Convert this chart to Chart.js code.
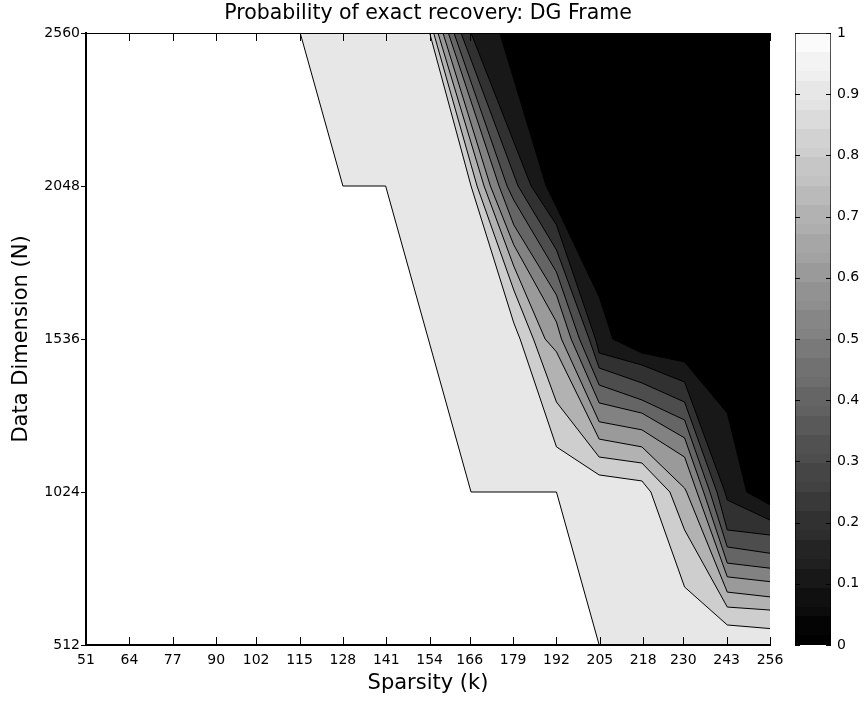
<!DOCTYPE html>
<html>
<head>
<meta charset="utf-8">
<script src="https://cdn.jsdelivr.net/npm/chart.js@4.4.1/dist/chart.umd.min.js"></script>
<style>
  html, body { margin: 0; padding: 0; background: #fff; }
  #wrap { position: relative; width: 864px; height: 702px; }
  #wrap canvas { position: absolute; left: 0; top: 0; }
</style>
</head>
<body>
<div id="wrap">
  <canvas id="contourChart" width="864" height="702"></canvas>
  <canvas id="colorbarChart" width="864" height="702"></canvas>
</div>
<script>
/* ==========================================================
   DATA
========================================================== */

const titleText = "Probability of exact recovery: DG Frame";

// sparsity k (x) and data dimension N (y)
const kTicks = [51, 64, 77, 90, 102, 115, 128, 141, 154, 166, 179, 192, 205, 218, 230, 243, 256];
const nTicks = [512, 1024, 1536, 2048, 2560];

// colorbar
const cbTicks = [0, 0.1, 0.2, 0.3, 0.4, 0.5, 0.6, 0.7, 0.8, 0.9, 1];
const cbLabels = ["0", "0.1", "0.2", "0.3", "0.4", "0.5", "0.6", "0.7", "0.8", "0.9", "1"];

// contour levels, one line per level: [k, N]
const levels = [1.0, 0.9, 0.8, 0.7, 0.6, 0.5, 0.4, 0.3, 0.2, 0.1];

const contour100 = [[115.2, 2560], [128, 2048], [140.8, 2048], [153.6, 1536], [166.4, 1024], [192, 1024], [204.8, 512]];
const contour090 = [[154.0, 2560], [166.4, 2048], [179.2, 1590], [181.1, 1536], [192, 1175], [204.8, 1081], [217.6, 1061], [220.3, 1024], [230.4, 706], [243.2, 579], [256, 567]];
const contour080 = [[155.2, 2560], [168.2, 2048], [179.2, 1700], [185.1, 1536], [192, 1325], [204.8, 1141], [217.6, 1121], [226.0, 1024], [230.4, 897], [243.2, 639], [256, 629]];
const contour070 = [[156.5, 2560], [170.3, 2048], [179.2, 1780], [188.6, 1536], [192, 1493], [204.8, 1201], [217.6, 1175], [230.4, 1037], [231.0, 1024], [243.2, 689], [256, 673]];
const contour060 = [[158.0, 2560], [172.2, 2048], [179.2, 1851], [192, 1593], [193.5, 1536], [204.8, 1259], [217.6, 1232], [230.4, 1141], [234.1, 1024], [243.2, 740], [256, 724]];
const contour050 = [[159.6, 2560], [174.8, 2048], [179.2, 1918], [192, 1683], [196.4, 1536], [204.8, 1322], [217.6, 1288], [230.4, 1205], [236.1, 1024], [243.2, 786], [256, 769]];
const contour040 = [[161.3, 2560], [177.2, 2048], [179.2, 2001], [192, 1760], [198.9, 1536], [204.8, 1382], [217.6, 1332], [230.4, 1265], [238.0, 1024], [243.2, 840], [256, 819]];
const contour030 = [[163.4, 2560], [180.5, 2048], [192, 1834], [201.8, 1536], [204.8, 1439], [217.6, 1389], [230.4, 1325], [240.1, 1024], [243.2, 897], [256, 880]];
const contour020 = [[166.4, 2560], [184.4, 2048], [192, 1918], [203.7, 1536], [204.8, 1489], [217.6, 1449], [230.4, 1392], [242.5, 1024], [243.2, 997], [256, 930]];
const contour010 = [[175.0, 2560], [188.9, 2048], [192, 1978], [204.8, 1677], [208.9, 1536], [217.6, 1489], [230.4, 1459], [243.2, 1288], [249.0, 1024], [256, 981]];

const contours = [contour100, contour090, contour080, contour070, contour060,
                  contour050, contour040, contour030, contour020, contour010];

/* ==========================================================
   HELPERS
========================================================== */

const FONT = '"DejaVu Sans", Verdana, sans-serif';
Chart.defaults.font.family = FONT;
Chart.defaults.color = "#000";

// gray(64) colormap lookup, like matlab
function grayAt(v) {
    const idx = Math.min(63, Math.floor(Math.round(v * 1000) / 1000 * 64));
    const g = Math.round(idx / 63 * 255);
    return `rgb(${g},${g},${g})`;
}

const kMin = kTicks[0], kMax = kTicks[kTicks.length - 1];
const nMin = nTicks[0], nMax = nTicks[nTicks.length - 1];

// region above/right of each line holds values below the level
function toPoints(line) {
    const pts = line.map(([k, n]) => ({ x: k, y: n }));
    const last = pts[pts.length - 1];
    if (last.y === nMin && last.x < kMax) {
        pts.push({ x: kMax, y: nMin });
    }
    return pts;
}

/* ==========================================================
   PLUGINS
========================================================== */

const plotTitle = {
    id: "plotTitle",
    afterDraw(chart) {
        const { ctx, chartArea } = chart;
        ctx.save();
        ctx.font = `20.5px ${FONT}`;
        ctx.fillStyle = "#000";
        ctx.textAlign = "center";
        ctx.textBaseline = "alphabetic";
        ctx.fillText(titleText, (chartArea.left + chartArea.right) / 2, 19);
        ctx.restore();
    }
};

// ticks: x inward (bottom and top), y outward on the left, plus the box
const axisTicks = {
    id: "axisTicks",
    afterDatasetsDraw(chart) {
        const { ctx, chartArea: a, scales: { x, y } } = chart;
        ctx.save();
        ctx.strokeStyle = "#000";
        ctx.lineWidth = 1;
        ctx.beginPath();
        x.ticks.forEach(t => {
            const px = Math.round(x.getPixelForValue(t.value)) + 0.5;
            ctx.moveTo(px, a.bottom);
            ctx.lineTo(px, a.bottom - 8);
            ctx.moveTo(px, a.top);
            ctx.lineTo(px, a.top + 8);
        });
        y.ticks.forEach(t => {
            const py = Math.round(y.getPixelForValue(t.value)) + 0.5;
            ctx.moveTo(a.left, py);
            ctx.lineTo(a.left - 5, py);
        });
        ctx.moveTo(a.left, a.top + 0.5);
        ctx.lineTo(a.right, a.top + 0.5);
        ctx.stroke();
        ctx.restore();
    }
};

const colorbarTicks = {
    id: "colorbarTicks",
    afterDatasetsDraw(chart) {
        const { ctx, chartArea: a, scales: { y } } = chart;
        ctx.save();
        ctx.strokeStyle = "#000";
        ctx.lineWidth = 1;
        ctx.beginPath();
        y.ticks.forEach(t => {
            const py = Math.round(y.getPixelForValue(t.value)) + 0.5;
            ctx.moveTo(a.left, py);
            ctx.lineTo(a.left + 5, py);
            ctx.moveTo(a.right, py);
            ctx.lineTo(a.right - 5, py);
        });
        ctx.stroke();
        ctx.restore();
    }
};

/* ==========================================================
   CONTOUR CHART
========================================================== */

const datasets = contours.map((line, i) => ({
    label: "p = " + levels[i],
    data: toPoints(line),
    borderColor: "#000",
    borderWidth: 1,
    pointRadius: 0,
    tension: 0,
    fill: "end",
    backgroundColor: grayAt(levels[i] - 0.1),
    order: contours.length - i
}));

new Chart(document.getElementById("contourChart"), {
    type: "line",
    data: { datasets },
    options: {
        responsive: false,
        animation: false,
        events: [],
        layout: { padding: { left: 0, top: 33, right: 94, bottom: 0 } },
        plugins: {
            legend: { display: false },
            tooltip: { enabled: false },
            title: { display: false }
        },
        scales: {
            x: {
                type: "linear",
                min: kMin,
                max: kMax,
                afterBuildTicks: s => { s.ticks = kTicks.map(v => ({ value: v })); },
                afterFit: s => { s.height = 57; },
                grid: { display: false, drawTicks: false },
                border: { display: true, color: "#000", width: 2, z: 1 },
                ticks: {
                    autoSkip: false,
                    maxRotation: 0,
                    padding: 7,
                    font: { size: 14 },
                    callback: v => String(v)
                },
                title: {
                    display: true,
                    text: "Sparsity (k)",
                    font: { size: 21 },
                    padding: { top: 0, bottom: 6 }
                }
            },
            y: {
                type: "linear",
                min: nMin,
                max: nMax,
                afterBuildTicks: s => { s.ticks = nTicks.map(v => ({ value: v })); },
                afterFit: s => { s.width = 86; },
                grid: { display: false, drawTicks: false },
                border: { display: true, color: "#000", width: 2, z: 1 },
                ticks: {
                    padding: 6,
                    font: { size: 14 },
                    callback: v => String(v)
                },
                title: {
                    display: true,
                    text: "Data Dimension (N)",
                    font: { size: 21 },
                    padding: { top: 9, bottom: 0 }
                }
            }
        }
    },
    plugins: [axisTicks, plotTitle]
});

/* ==========================================================
   COLORBAR
========================================================== */

function colormapGradient(chart) {
    const a = chart.chartArea;
    if (!a) {
        return "#808080";
    }
    const g = chart.ctx.createLinearGradient(0, a.bottom, 0, a.top);
    for (let i = 0; i < 64; i++) {
        const c = grayAt(i / 64);
        g.addColorStop(i / 64, c);
        g.addColorStop((i + 1) / 64, c);
    }
    return g;
}

new Chart(document.getElementById("colorbarChart"), {
    type: "bar",
    data: {
        labels: [""],
        datasets: [{
            data: [[cbTicks[0], cbTicks[cbTicks.length - 1]]],
            backgroundColor: ctx => colormapGradient(ctx.chart),
            borderColor: "#000",
            borderWidth: 1,
            borderSkipped: false,
            barPercentage: 1,
            categoryPercentage: 1
        }]
    },
    options: {
        responsive: false,
        animation: false,
        events: [],
        layout: { padding: { left: 795, top: 33, right: 0, bottom: 57 } },
        plugins: {
            legend: { display: false },
            tooltip: { enabled: false }
        },
        scales: {
            x: { display: false },
            y: {
                position: "right",
                min: 0,
                max: 1,
                afterBuildTicks: s => { s.ticks = cbTicks.map(v => ({ value: v })); },
                afterFit: s => { s.width = 33; },
                grid: { display: false, drawTicks: false },
                border: { display: false },
                ticks: {
                    padding: 6,
                    font: { size: 14 },
                    callback: (v, i) => cbLabels[i]
                }
            }
        }
    },
    plugins: [colorbarTicks]
});
</script>
</body>
</html>
